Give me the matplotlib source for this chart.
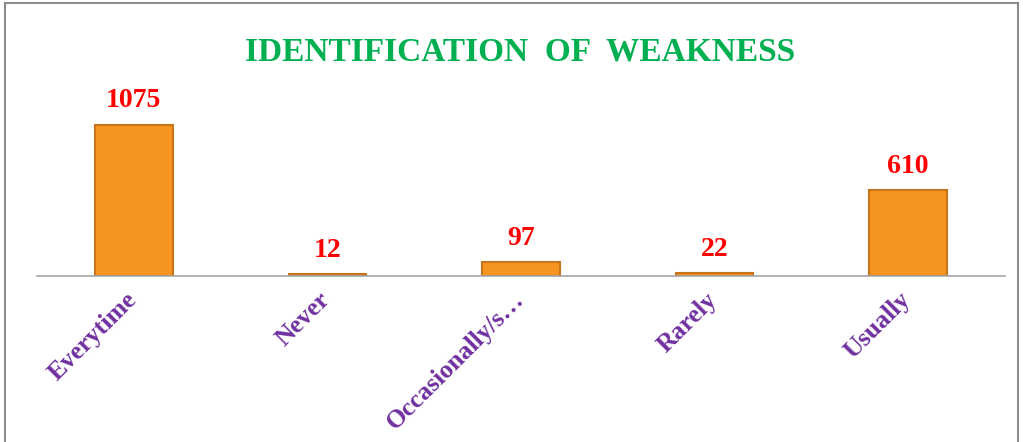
import matplotlib
matplotlib.use("Agg")
from matplotlib import pyplot as plt
from matplotlib.patches import Rectangle
from matplotlib.transforms import ScaledTranslation

# Data.
categories = ["Everytime", "Never", "Occasionally/s…", "Rarely", "Usually"]
counts = [1075, 12, 97, 22, 610]

fig = plt.figure(figsize=(10.23, 4.42), dpi=100)
ax = fig.add_axes([0.0362, 0.3756, 0.9462, 0.3823])

x = range(len(categories))
bars = ax.bar(x, counts, width=0.4, color="#F5941F", edgecolor="#C9741A", linewidth=1.5)

# Value labels above bars.
for xi, v in zip(x, counts):
    ax.text(xi, v + 80, str(v), ha="center", va="bottom", color="#FF0000",
            fontsize=20, fontweight="bold", family="Liberation Serif")

ax.set_xlim(-0.5, len(categories) - 0.5)
ax.set_ylim(0, 1200)
ax.set_yticks([])
ax.set_xticks(list(x))
ax.set_xticklabels(categories, rotation=45, ha="right", rotation_mode="anchor",
                   color="#7030A0", fontsize=18.5, fontweight="bold", family="Liberation Serif")
ax.tick_params(axis="x", length=0, pad=6)
shift = ScaledTranslation(-9 / 100, -4 / 100, fig.dpi_scale_trans)
for lbl in ax.get_xticklabels():
    lbl.set_transform(lbl.get_transform() + shift)
for side in ["top", "right", "left"]:
    ax.spines[side].set_visible(False)
ax.spines["bottom"].set_color("#A6A6A6")
ax.spines["bottom"].set_linewidth(1.2)

# Title.
fig.text(0.508, 0.883, "IDENTIFICATION  OF  WEAKNESS", ha="center", va="center",
         color="#00B050", fontsize=24, fontweight="bold", family="Liberation Serif")

# Outer frame.
fig.patches.append(Rectangle((0.005, -0.01), 0.99, 1.003, transform=fig.transFigure,
                             fill=False, edgecolor="#8C8C8C", linewidth=1.5))

fig.savefig("out.png", dpi=100)
